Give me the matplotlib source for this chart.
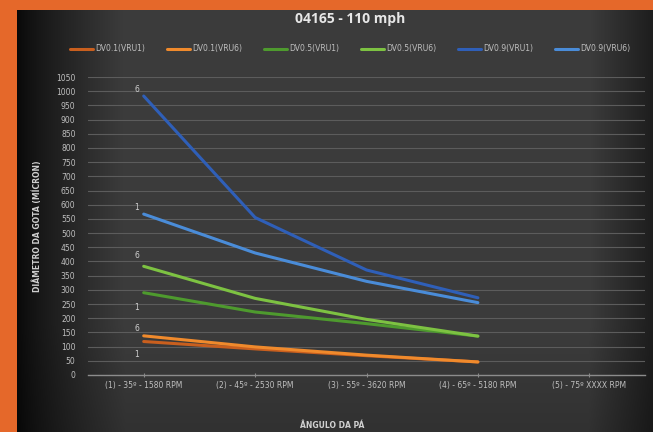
import matplotlib.pyplot as plt
import numpy as np

categories = [
    "(1) - 35º - 1580 RPM",
    "(2) - 45º - 2530 RPM",
    "(3) - 55º - 3620 RPM",
    "(4) - 65º - 5180 RPM",
    "(5) - 75º XXXX RPM",
]

series_names = ["DV0.1(VRU1)", "DV0.1(VRU6)", "DV0.5(VRU1)",
                "DV0.5(VRU6)", "DV0.9(VRU1)", "DV0.9(VRU6)"]
dv01_vru1 = [118, 92, 68, 46]
dv01_vru6 = [138, 99, 70, 46]
dv05_vru1 = [290, 222, 181, 137]
dv05_vru6 = [383, 270, 196, 137]
dv09_vru1 = [983, 555, 370, 272]
dv09_vru6 = [567, 430, 330, 255]

# data labels next to the first point
point_labels = ["1", "6", "1", "6", "6", "1"]
label_offsets = [(-5, -9), (-5, 5), (-5, -11), (-5, 8), (-5, 5), (-5, 5)]

colors = ["#C95F1E", "#F08A2C", "#4E9A2E", "#7DC242", "#2F5FB8", "#4A8CD8"]

values = [dv01_vru1, dv01_vru6, dv05_vru1, dv05_vru6, dv09_vru1, dv09_vru6]

W, H = 653, 432
fig = plt.figure(figsize=(W / 100, H / 100), dpi=100)
fig.patch.set_facecolor("#E5682A")

# dark chart background with vignette
bg = fig.add_axes([17 / W, 0, 1 - 17 / W, 1 - 9.5 / H])
xs = np.linspace(0, 1, 400)
shade = np.ones_like(xs)
shade = np.minimum(shade, 0.15 + 0.85 * np.clip(xs / 0.17, 0, 1) ** 0.8)
shade = np.minimum(shade, 0.5 + 0.5 * np.clip((1 - xs) / 0.1, 0, 1))
ys = np.linspace(0, 1, 200)[:, None]
vshade = 0.82 + 0.18 * np.clip(ys / 0.25, 0, 1)
grad = (shade[None, :] * vshade) * 0.235
img = np.dstack([grad, grad, grad])
bg.imshow(img, aspect="auto", extent=[0, 1, 0, 1], origin="lower")
bg.axis("off")

ax = fig.add_axes([88 / W, 1 - 375 / H, (645 - 88) / W, (375 - 77) / H])
ax.set_facecolor("none")

x = np.arange(len(categories))
for name, vals, color in zip(series_names, values, colors):
    ax.plot(x[:len(vals)], vals, color=color, linewidth=2.2,
            solid_capstyle="round", label=name)

for vals, lab, off in zip(values, point_labels, label_offsets):
    ax.annotate(lab, xy=(0, vals[0]), xytext=off, textcoords="offset points",
                color="#D0D0D0", fontsize=5.5, ha="center", va="center")

ax.set_xlim(-0.5, 4.5)
ax.set_ylim(0, 1050)
ax.set_yticks(np.arange(0, 1051, 50))
ax.set_xticks(x)
ax.set_xticklabels(categories)
ax.tick_params(axis="x", colors="#BFBFBF", labelsize=5.5, length=3,
               direction="inout", color="#8C8C8C", pad=3)
ax.tick_params(axis="y", colors="#BFBFBF", labelsize=5.5, length=0, pad=9)
ax.grid(axis="y", color="#5C5C5C", linewidth=0.8)
ax.set_axisbelow(True)
for side in ["top", "right", "left"]:
    ax.spines[side].set_visible(False)
ax.spines["bottom"].set_color("#8C8C8C")
ax.spines["bottom"].set_linewidth(1)

fig.text(350 / W, 1 - 19 / H, "04165 - 110 mph", color="#E6E6E6",
         fontsize=10, fontweight="bold", ha="center", va="center",
         family="Open Sans")

fig.legend(loc="center", bbox_to_anchor=(350 / W, 1 - 49 / H), ncol=6,
           frameon=False, fontsize=5.5, labelcolor="#BFBFBF",
           handlelength=3.0, handletextpad=0.3, columnspacing=2.85)

fig.text(37 / W, 1 - 226 / H, "DIÂMETRO DA GOTA (MÍCRON)", color="#D0D0D0",
         fontsize=5.5, fontweight="bold", rotation=90, ha="center", va="center")
fig.text(332 / W, 1 - 425 / H, "ÂNGULO DA PÁ", color="#D0D0D0",
         fontsize=5.5, fontweight="bold", ha="center", va="center")

plt.savefig("out.png", dpi=100, facecolor=fig.get_facecolor())
plt.close()
